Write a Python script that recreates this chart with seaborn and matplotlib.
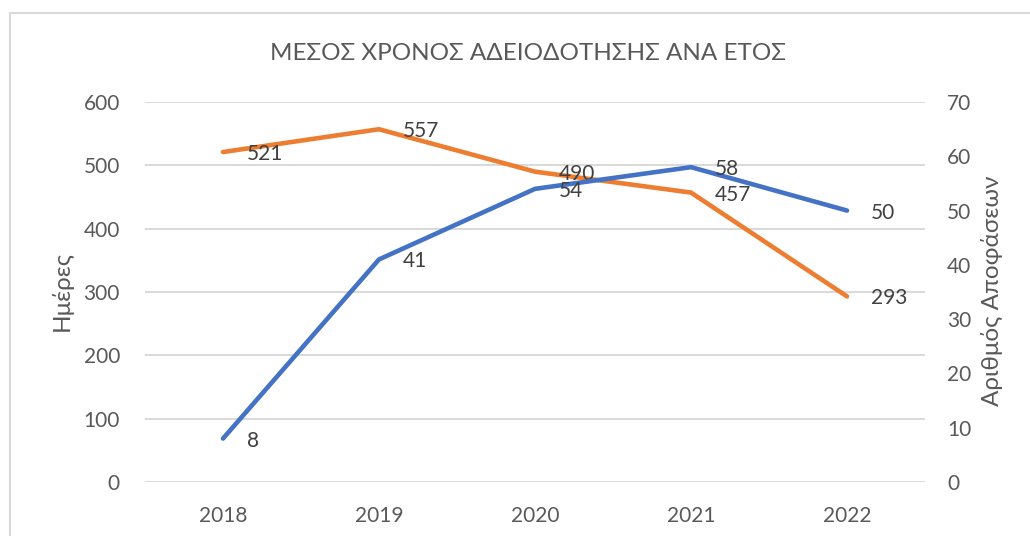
import matplotlib
matplotlib.use('Agg')
import matplotlib.pyplot as plt
import seaborn as sns
import pandas as pd
from matplotlib.patches import Rectangle

# Data.
years = ["2018", "2019", "2020", "2021", "2022"]
days = [521, 557, 490, 457, 293]          # Ημέρες (left axis)
decisions = [8, 41, 54, 58, 50]           # Αριθμός Αποφάσεων (right axis)

title = "ΜΕΣΟΣ ΧΡΟΝΟΣ ΑΔΕΙΟΔΟΤΗΣΗΣ ΑΝΑ ΕΤΟΣ"
left_label = "Ημέρες"
right_label = "Αριθμός Αποφάσεων"

orange = "#ED7D31"
blue = "#4472C4"
tick_col = "#595959"
grid_col = "#D9D9D9"
label_col = "#404040"

sns.set_style("white")
plt.rcParams['font.family'] = ['Lato', 'Open Sans', 'DejaVu Sans']

df = pd.DataFrame({"year": years, "days": days, "decisions": decisions})

fig = plt.figure(figsize=(10.3, 5.36), dpi=100)
ax = fig.add_axes([145 / 1030, 1 - 482 / 536, 780 / 1030, 380 / 536])
ax2 = ax.twinx()

sns.lineplot(data=df, x="year", y="days", ax=ax, color=orange,
             linewidth=3.3, solid_capstyle="round", sort=False)
sns.lineplot(data=df, x="year", y="decisions", ax=ax2, color=blue,
             linewidth=3.3, solid_capstyle="round", sort=False)

ax.set_xlim(-0.5, len(years) - 0.5)
ax.set_ylim(0, 600)
ax2.set_ylim(0, 70)
ax.set_yticks(range(0, 601, 100))
ax2.set_yticks(range(0, 71, 10))

ax.yaxis.grid(True, color=grid_col, linewidth=1.4)
ax.xaxis.grid(False)
ax.set_axisbelow(True)
for a in (ax, ax2):
    for s in a.spines.values():
        s.set_visible(False)
    a.set_xlabel("")
    a.set_ylabel("")
    a.tick_params(length=0, labelsize=15, colors=tick_col)
ax.tick_params(axis='y', pad=18)
ax.tick_params(axis='x', pad=17)
ax2.tick_params(axis='y', pad=16)

# data labels, placed to the right of the points
for i, v in enumerate(days):
    ax.annotate(str(v), (i, v), xytext=(24, -2), textcoords='offset pixels',
                ha='left', va='center', fontsize=15, color=label_col)
for i, v in enumerate(decisions):
    ax2.annotate(str(v), (i, v), xytext=(24, -2), textcoords='offset pixels',
                 ha='left', va='center', fontsize=15, color=label_col)

fig.text(528 / 1030, 1 - 53 / 536, title, ha='center', va='center',
         fontsize=17.5, color=tick_col, fontweight='normal')
fig.text(62 / 1030, 1 - 291 / 536, left_label, rotation=90, ha='center',
         va='center', fontsize=17.5, color=tick_col)
fig.text(992 / 1030, 1 - 291 / 536, right_label, rotation=90, ha='center',
         va='center', fontsize=17.5, color=tick_col)

# chart frame (cut off at right and bottom in the reference)
fig.patches.append(Rectangle((10 / 1030, -0.1), 1.2, 1.1 - 13 / 536,
                             transform=fig.transFigure, fill=False,
                             edgecolor=grid_col, linewidth=1.5))

fig.savefig("out.png", dpi=100)
plt.close()
